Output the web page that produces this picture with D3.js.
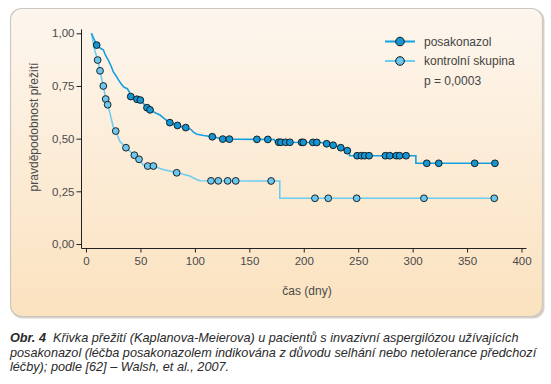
<!DOCTYPE html>
<html>
<head>
<meta charset="utf-8">
<script src="https://cdn.jsdelivr.net/npm/d3@7"></script>
<style>
  body { margin: 0; background: #fff; }
  svg { display: block; }
  text { font-family: "Liberation Sans", Arial, sans-serif; }
</style>
</head>
<body>
<script>
const width = 551
const height = 384

// Kaplan-Meier curves: [time in days, survival probability]
const posaCurve = [
  [5, 1.0], [9.8, 0.944], [13, 0.93], [16, 0.921], [18, 0.895], [20.5, 0.873], [23, 0.845],
  [25, 0.818], [28, 0.795], [30, 0.778], [33, 0.755], [35, 0.744], [38, 0.737], [40, 0.72],
  [41, 0.70], [46, 0.688], [50, 0.683], [53, 0.665], [56, 0.647], [59, 0.636], [64, 0.622],
  [68, 0.612], [72, 0.595], [76, 0.578], [81, 0.568], [86, 0.559], [92, 0.552], [96, 0.545],
  [99, 0.53], [102, 0.521], [108, 0.515], [116, 0.509], [120, 0.505], [124, 0.498],
  [173, 0.496], [174, 0.483], [216, 0.482], [220, 0.477], [226, 0.470], [232, 0.462],
  [236, 0.452], [240, 0.443], [242, 0.443], [242, 0.419], [303, 0.419], [303, 0.383], [376, 0.383]
]
const controlCurve = [
  [5, 1.0], [8, 0.92], [10.7, 0.873], [12.9, 0.822], [15.9, 0.75], [18.1, 0.688], [20.5, 0.652],
  [22, 0.621], [25, 0.557], [27.3, 0.536], [31.2, 0.486], [36.7, 0.457], [43.4, 0.426],
  [48.7, 0.402], [52.6, 0.375], [56.7, 0.370], [61.9, 0.370], [70, 0.355], [83.3, 0.338],
  [90, 0.330], [95.5, 0.323], [100, 0.31], [104.7, 0.300], [178, 0.299], [178, 0.217], [375, 0.217]
]

// censored observations (days)
const posaCensor = [9.8, 41.1, 46.8, 49.9, 56, 58.8, 77, 84, 91.6, 116, 125.6, 131.7, 157, 167,
  177, 179, 183.4, 187.3, 198, 199.6, 208.4, 212, 221, 227, 234, 240,
  249, 253, 256, 260, 275, 279, 285, 288, 294, 313, 324, 357, 375.6]
const controlCensor = [10.7, 12.9, 15.9, 18.1, 19.9, 27.3, 36.7, 44.4, 48.7, 56.7, 61.9, 83.3,
  114.8, 121.5, 130.1, 137.5, 170, 210.3, 222.5, 248.6, 310.4, 375]

const xTicks = [0, 50, 100, 150, 200, 250, 300, 350, 400]
const yTicks = [0, 0.25, 0.5, 0.75, 1]

const legendLabels = ["posakonazol", "kontrolní skupina"]
const pValue = "p = 0,0003"
const xTitle = "čas (dny)"
const yTitle = "pravděpodobnost přežití"
const captionLines = [
  ["Obr. 4", "  Křivka přežití (Kaplanova-Meierova) u pacientů s invazivní aspergilózou užívajících"],
  ["", "posakonazol (léčba posakonazolem indikována z důvodu selhání nebo netolerance předchozí"],
  ["", "léčby); podle [62] – Walsh, et al., 2007."]
]

const colors = {
  posaLine: "#15a0e0", posaFill: "#1596d4",
  ctrlLine: "#6ccdf3", ctrlFill: "#6cc8ee"
}

const svg = d3.select("body").append("svg")
  .attr("width", width)
  .attr("height", height)

// panel background
const defs = svg.append("defs")
const grad = defs.append("linearGradient").attr("id", "panelGrad")
  .attr("x1", 0).attr("y1", 0).attr("x2", 0).attr("y2", 1)
grad.append("stop").attr("offset", "0%").attr("stop-color", "#fdf6ee")
grad.append("stop").attr("offset", "100%").attr("stop-color", "#fbe2bf")

svg.append("rect")
  .attr("x", 11.5).attr("y", 9.5).attr("width", 533).attr("height", 309)
  .attr("rx", 11)
  .attr("fill", "#d9d2c8")
svg.append("rect")
  .attr("x", 10.5).attr("y", 8.5).attr("width", 532).attr("height", 308)
  .attr("rx", 11)
  .attr("fill", "url(#panelGrad)")
  .attr("stroke", "#cbc8c3")
  .attr("stroke-width", 1.2)

const x = d3.scaleLinear().domain([0, 400]).range([86, 521.5])
const y = d3.scaleLinear().domain([0, 1]).range([244, 33.3])

// axes
const xAxis = svg.append("g")
  .attr("transform", "translate(0,248.5)")
  .call(d3.axisBottom(x).tickValues(xTicks).tickSize(4).tickSizeOuter(0).tickPadding(4))
const yAxis = svg.append("g")
  .attr("transform", "translate(81.5,0)")
  .call(d3.axisLeft(y).tickValues(yTicks).tickSize(5).tickSizeOuter(0).tickPadding(2)
    .tickFormat(d => d3.format(".2f")(d).replace(".", ",")))

for (const g of [xAxis, yAxis]) {
  g.select(".domain").remove()
  g.selectAll("text").attr("font-size", 11.5).attr("fill", "#4a4a4a")
    .style("font-family", "'Liberation Sans', Arial, sans-serif")
  g.selectAll("line").attr("stroke", "#222")
}
svg.append("path")
  .attr("d", `M81.5,${y(1) - 4}V248.5H${x(400) + 5}`)
  .attr("fill", "none").attr("stroke", "#222").attr("stroke-width", 1)

svg.append("text")
  .attr("x", 307).attr("y", 295)
  .attr("text-anchor", "middle")
  .attr("font-size", 12).attr("fill", "#4a4a4a")
  .text(xTitle)
svg.append("text")
  .attr("transform", "translate(38,127) rotate(-90)")
  .attr("text-anchor", "middle")
  .attr("font-size", 12).attr("fill", "#4a4a4a")
  .text(yTitle)

// survival lookup along a curve
const survAt = (curve, t) => {
  for (let i = 0; i < curve.length - 1; i++) {
    const a = curve[i], b = curve[i + 1]
    if (t >= a[0] && t <= b[0]) {
      if (b[0] === a[0]) return a[1]
      return a[1] + (b[1] - a[1]) * (t - a[0]) / (b[0] - a[0])
    }
  }
  return curve[curve.length - 1][1]
}

const line = d3.line().x(d => x(d[0])).y(d => y(d[1]))

const series = [
  { curve: controlCurve, censor: controlCensor, stroke: colors.ctrlLine, fill: colors.ctrlFill },
  { curve: posaCurve, censor: posaCensor, stroke: colors.posaLine, fill: colors.posaFill }
]

series.forEach(s => {
  svg.append("path")
    .datum(s.curve)
    .attr("d", line)
    .attr("fill", "none")
    .attr("stroke", s.stroke)
    .attr("stroke-width", 1.6)
})
series.forEach(s => {
  svg.append("g").selectAll("circle")
    .data(s.censor)
    .enter()
    .append("circle")
    .attr("cx", d => x(d))
    .attr("cy", d => y(survAt(s.curve, d)))
    .attr("r", 3.4)
    .attr("fill", s.fill)
    .attr("stroke", "#111")
    .attr("stroke-width", 0.9)
})

// legend
const legend = svg.append("g")
const legendSeries = [series[1], series[0]]
legendSeries.forEach((s, i) => {
  const ly = 41.5 + i * 19.5
  legend.append("line")
    .attr("x1", 385).attr("x2", 415).attr("y1", ly).attr("y2", ly)
    .attr("stroke", s.stroke).attr("stroke-width", 2)
  legend.append("circle")
    .attr("cx", 400).attr("cy", ly).attr("r", 4.3)
    .attr("fill", s.fill).attr("stroke", "#111").attr("stroke-width", 1)
  legend.append("text")
    .attr("x", 424).attr("y", ly + 4.3)
    .attr("font-size", 12).attr("fill", "#444")
    .text(legendLabels[i])
})
legend.append("text")
  .attr("x", 424).attr("y", 41.5 + 2 * 19.5 + 4.3)
  .attr("font-size", 12).attr("fill", "#444")
  .text(pValue)

// caption
captionLines.forEach((ln, i) => {
  const t = svg.append("text")
    .attr("x", 10).attr("y", 342 + i * 14.5)
    .attr("font-size", 12.7).attr("fill", "#2a2a2a")
    .attr("font-style", "italic")
    .style("white-space", "pre")
  if (ln[0]) t.append("tspan").attr("font-weight", "bold").text(ln[0])
  t.append("tspan").text(ln[1])
})
</script>
</body>
</html>
